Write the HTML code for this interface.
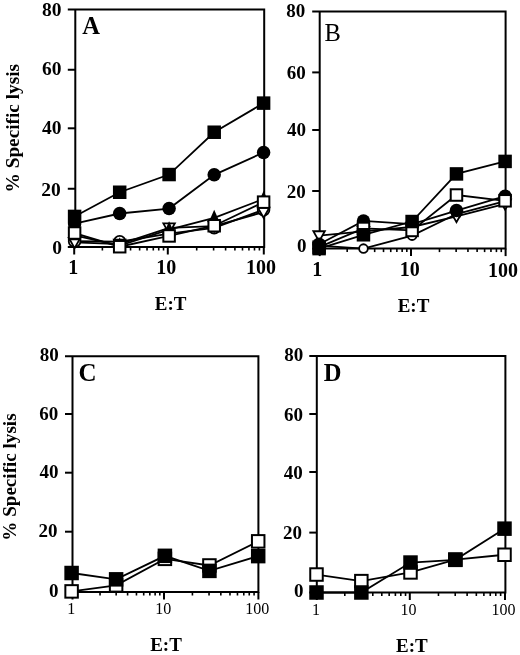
<!DOCTYPE html>
<html><head><meta charset="utf-8"><style>
html,body{margin:0;padding:0;background:#fff;}
svg{display:block;filter:grayscale(1);}
text{font-family:"Liberation Serif",serif;fill:#000;stroke:none;}
</style></head><body>
<svg width="520" height="655" viewBox="0 0 520 655" stroke="#000" stroke-linecap="butt">
<path d="M67.80 9.50 H264.20 V247.00 H75.30 V9.50" fill="none" stroke-width="2.0" stroke-linejoin="miter"/>
<line x1="67.80" y1="69.75" x2="75.30" y2="69.75" stroke-width="2.0"/>
<line x1="67.80" y1="128.30" x2="75.30" y2="128.30" stroke-width="2.0"/>
<line x1="67.80" y1="188.75" x2="75.30" y2="188.75" stroke-width="2.0"/>
<line x1="67.80" y1="247.00" x2="75.30" y2="247.00" stroke-width="2.0"/>
<line x1="74.20" y1="247.00" x2="74.20" y2="254.50" stroke-width="2.0"/>
<line x1="167.80" y1="247.00" x2="167.80" y2="254.50" stroke-width="2.0"/>
<line x1="263.80" y1="247.00" x2="263.80" y2="254.50" stroke-width="2.0"/>
<line x1="102.38" y1="247.00" x2="102.38" y2="250.50" stroke-width="1.6"/>
<line x1="118.86" y1="247.00" x2="118.86" y2="250.50" stroke-width="1.6"/>
<line x1="130.55" y1="247.00" x2="130.55" y2="250.50" stroke-width="1.6"/>
<line x1="139.62" y1="247.00" x2="139.62" y2="250.50" stroke-width="1.6"/>
<line x1="147.03" y1="247.00" x2="147.03" y2="250.50" stroke-width="1.6"/>
<line x1="153.30" y1="247.00" x2="153.30" y2="250.50" stroke-width="1.6"/>
<line x1="158.73" y1="247.00" x2="158.73" y2="250.50" stroke-width="1.6"/>
<line x1="163.52" y1="247.00" x2="163.52" y2="250.50" stroke-width="1.6"/>
<line x1="196.70" y1="247.00" x2="196.70" y2="250.50" stroke-width="1.6"/>
<line x1="213.60" y1="247.00" x2="213.60" y2="250.50" stroke-width="1.6"/>
<line x1="225.60" y1="247.00" x2="225.60" y2="250.50" stroke-width="1.6"/>
<line x1="234.90" y1="247.00" x2="234.90" y2="250.50" stroke-width="1.6"/>
<line x1="242.50" y1="247.00" x2="242.50" y2="250.50" stroke-width="1.6"/>
<line x1="248.93" y1="247.00" x2="248.93" y2="250.50" stroke-width="1.6"/>
<line x1="254.50" y1="247.00" x2="254.50" y2="250.50" stroke-width="1.6"/>
<line x1="259.41" y1="247.00" x2="259.41" y2="250.50" stroke-width="1.6"/>
<path d="M312.20 11.40 H505.60 V248.60 H319.70 V11.40" fill="none" stroke-width="2.0" stroke-linejoin="miter"/>
<line x1="312.20" y1="72.40" x2="319.70" y2="72.40" stroke-width="2.0"/>
<line x1="312.20" y1="130.00" x2="319.70" y2="130.00" stroke-width="2.0"/>
<line x1="312.20" y1="191.00" x2="319.70" y2="191.00" stroke-width="2.0"/>
<line x1="312.20" y1="248.60" x2="319.70" y2="248.60" stroke-width="2.0"/>
<line x1="319.70" y1="248.60" x2="319.70" y2="256.10" stroke-width="2.0"/>
<line x1="411.00" y1="248.60" x2="411.00" y2="256.10" stroke-width="2.0"/>
<line x1="505.60" y1="248.60" x2="505.60" y2="256.10" stroke-width="2.0"/>
<line x1="347.18" y1="248.60" x2="347.18" y2="252.10" stroke-width="1.6"/>
<line x1="363.26" y1="248.60" x2="363.26" y2="252.10" stroke-width="1.6"/>
<line x1="374.67" y1="248.60" x2="374.67" y2="252.10" stroke-width="1.6"/>
<line x1="383.52" y1="248.60" x2="383.52" y2="252.10" stroke-width="1.6"/>
<line x1="390.75" y1="248.60" x2="390.75" y2="252.10" stroke-width="1.6"/>
<line x1="396.86" y1="248.60" x2="396.86" y2="252.10" stroke-width="1.6"/>
<line x1="402.15" y1="248.60" x2="402.15" y2="252.10" stroke-width="1.6"/>
<line x1="406.82" y1="248.60" x2="406.82" y2="252.10" stroke-width="1.6"/>
<line x1="439.48" y1="248.60" x2="439.48" y2="252.10" stroke-width="1.6"/>
<line x1="456.14" y1="248.60" x2="456.14" y2="252.10" stroke-width="1.6"/>
<line x1="467.95" y1="248.60" x2="467.95" y2="252.10" stroke-width="1.6"/>
<line x1="477.12" y1="248.60" x2="477.12" y2="252.10" stroke-width="1.6"/>
<line x1="484.61" y1="248.60" x2="484.61" y2="252.10" stroke-width="1.6"/>
<line x1="490.95" y1="248.60" x2="490.95" y2="252.10" stroke-width="1.6"/>
<line x1="496.43" y1="248.60" x2="496.43" y2="252.10" stroke-width="1.6"/>
<line x1="501.27" y1="248.60" x2="501.27" y2="252.10" stroke-width="1.6"/>
<path d="M65.00 356.20 H258.40 V592.00 H72.50 V356.20" fill="none" stroke-width="2.0" stroke-linejoin="miter"/>
<line x1="65.00" y1="414.00" x2="72.50" y2="414.00" stroke-width="2.0"/>
<line x1="65.00" y1="472.70" x2="72.50" y2="472.70" stroke-width="2.0"/>
<line x1="65.00" y1="531.70" x2="72.50" y2="531.70" stroke-width="2.0"/>
<line x1="65.00" y1="592.00" x2="72.50" y2="592.00" stroke-width="2.0"/>
<line x1="72.50" y1="592.00" x2="72.50" y2="599.50" stroke-width="2.0"/>
<line x1="164.00" y1="592.00" x2="164.00" y2="599.50" stroke-width="2.0"/>
<line x1="258.40" y1="592.00" x2="258.40" y2="599.50" stroke-width="2.0"/>
<line x1="100.04" y1="592.00" x2="100.04" y2="595.50" stroke-width="1.6"/>
<line x1="116.16" y1="592.00" x2="116.16" y2="595.50" stroke-width="1.6"/>
<line x1="127.59" y1="592.00" x2="127.59" y2="595.50" stroke-width="1.6"/>
<line x1="136.46" y1="592.00" x2="136.46" y2="595.50" stroke-width="1.6"/>
<line x1="143.70" y1="592.00" x2="143.70" y2="595.50" stroke-width="1.6"/>
<line x1="149.83" y1="592.00" x2="149.83" y2="595.50" stroke-width="1.6"/>
<line x1="155.13" y1="592.00" x2="155.13" y2="595.50" stroke-width="1.6"/>
<line x1="159.81" y1="592.00" x2="159.81" y2="595.50" stroke-width="1.6"/>
<line x1="192.42" y1="592.00" x2="192.42" y2="595.50" stroke-width="1.6"/>
<line x1="209.04" y1="592.00" x2="209.04" y2="595.50" stroke-width="1.6"/>
<line x1="220.83" y1="592.00" x2="220.83" y2="595.50" stroke-width="1.6"/>
<line x1="229.98" y1="592.00" x2="229.98" y2="595.50" stroke-width="1.6"/>
<line x1="237.46" y1="592.00" x2="237.46" y2="595.50" stroke-width="1.6"/>
<line x1="243.78" y1="592.00" x2="243.78" y2="595.50" stroke-width="1.6"/>
<line x1="249.25" y1="592.00" x2="249.25" y2="595.50" stroke-width="1.6"/>
<line x1="254.08" y1="592.00" x2="254.08" y2="595.50" stroke-width="1.6"/>
<path d="M309.30 356.00 H505.40 V592.50 H316.80 V356.00" fill="none" stroke-width="2.0" stroke-linejoin="miter"/>
<line x1="309.30" y1="414.00" x2="316.80" y2="414.00" stroke-width="2.0"/>
<line x1="309.30" y1="472.00" x2="316.80" y2="472.00" stroke-width="2.0"/>
<line x1="309.30" y1="532.60" x2="316.80" y2="532.60" stroke-width="2.0"/>
<line x1="309.30" y1="592.50" x2="316.80" y2="592.50" stroke-width="2.0"/>
<line x1="316.80" y1="592.50" x2="316.80" y2="600.00" stroke-width="2.0"/>
<line x1="409.80" y1="592.50" x2="409.80" y2="600.00" stroke-width="2.0"/>
<line x1="505.00" y1="592.50" x2="505.00" y2="600.00" stroke-width="2.0"/>
<line x1="344.80" y1="592.50" x2="344.80" y2="596.00" stroke-width="1.6"/>
<line x1="361.17" y1="592.50" x2="361.17" y2="596.00" stroke-width="1.6"/>
<line x1="372.79" y1="592.50" x2="372.79" y2="596.00" stroke-width="1.6"/>
<line x1="381.80" y1="592.50" x2="381.80" y2="596.00" stroke-width="1.6"/>
<line x1="389.17" y1="592.50" x2="389.17" y2="596.00" stroke-width="1.6"/>
<line x1="395.39" y1="592.50" x2="395.39" y2="596.00" stroke-width="1.6"/>
<line x1="400.79" y1="592.50" x2="400.79" y2="596.00" stroke-width="1.6"/>
<line x1="405.54" y1="592.50" x2="405.54" y2="596.00" stroke-width="1.6"/>
<line x1="438.46" y1="592.50" x2="438.46" y2="596.00" stroke-width="1.6"/>
<line x1="455.22" y1="592.50" x2="455.22" y2="596.00" stroke-width="1.6"/>
<line x1="467.12" y1="592.50" x2="467.12" y2="596.00" stroke-width="1.6"/>
<line x1="476.34" y1="592.50" x2="476.34" y2="596.00" stroke-width="1.6"/>
<line x1="483.88" y1="592.50" x2="483.88" y2="596.00" stroke-width="1.6"/>
<line x1="490.25" y1="592.50" x2="490.25" y2="596.00" stroke-width="1.6"/>
<line x1="495.77" y1="592.50" x2="495.77" y2="596.00" stroke-width="1.6"/>
<line x1="500.64" y1="592.50" x2="500.64" y2="596.00" stroke-width="1.6"/>
<path d="M74.60 241.18 L119.69 241.76 L169.10 233.60 L214.19 227.78 L263.60 209.72" fill="none" stroke-width="1.8"/>
<path d="M74.60 242.34 L119.69 244.09 L169.10 227.78 L214.19 226.03 L263.60 212.05" fill="none" stroke-width="1.8"/>
<path d="M74.60 235.35 L119.69 245.54 L169.10 229.53 L214.19 217.88 L263.60 198.94" fill="none" stroke-width="1.8"/>
<path d="M74.60 223.70 L119.69 213.51 L169.10 208.56 L214.19 174.85 L263.60 152.48" fill="none" stroke-width="1.8"/>
<path d="M74.60 233.02 L119.69 246.71 L169.10 235.93 L214.19 225.74 L263.60 202.15" fill="none" stroke-width="1.8"/>
<path d="M74.60 216.42 L119.69 192.25 L169.10 174.54 L214.19 132.23 L263.60 103.12" fill="none" stroke-width="1.8"/>
<circle cx="74.60" cy="241.18" r="5.85" fill="#fff" stroke-width="1.8"/>
<circle cx="119.69" cy="241.76" r="5.85" fill="#fff" stroke-width="1.8"/>
<circle cx="169.10" cy="233.60" r="5.85" fill="#fff" stroke-width="1.8"/>
<circle cx="214.19" cy="227.78" r="5.85" fill="#fff" stroke-width="1.8"/>
<circle cx="263.60" cy="209.72" r="5.85" fill="#fff" stroke-width="1.8"/>
<path d="M68.85 237.94 L80.35 237.94 L74.60 248.09Z" fill="#fff" stroke-width="1.8" stroke-linejoin="miter"/>
<path d="M113.94 239.69 L125.44 239.69 L119.69 249.84Z" fill="#fff" stroke-width="1.8" stroke-linejoin="miter"/>
<path d="M163.35 223.38 L174.85 223.38 L169.10 233.53Z" fill="#fff" stroke-width="1.8" stroke-linejoin="miter"/>
<path d="M208.44 221.63 L219.94 221.63 L214.19 231.78Z" fill="#fff" stroke-width="1.8" stroke-linejoin="miter"/>
<path d="M257.85 207.65 L269.35 207.65 L263.60 217.80Z" fill="#fff" stroke-width="1.8" stroke-linejoin="miter"/>
<path d="M74.60 227.15 L80.40 240.35 L68.80 240.35Z" fill="#000" stroke="none"/>
<path d="M119.69 237.34 L125.49 250.54 L113.89 250.54Z" fill="#000" stroke="none"/>
<path d="M169.10 221.33 L174.90 234.53 L163.30 234.53Z" fill="#000" stroke="none"/>
<path d="M214.19 209.68 L219.99 222.88 L208.39 222.88Z" fill="#000" stroke="none"/>
<path d="M263.60 190.74 L269.40 203.94 L257.80 203.94Z" fill="#000" stroke="none"/>
<circle cx="74.60" cy="223.70" r="6.75" fill="#000" stroke="none"/>
<circle cx="119.69" cy="213.51" r="6.75" fill="#000" stroke="none"/>
<circle cx="169.10" cy="208.56" r="6.75" fill="#000" stroke="none"/>
<circle cx="214.19" cy="174.85" r="6.75" fill="#000" stroke="none"/>
<circle cx="263.60" cy="152.48" r="6.75" fill="#000" stroke="none"/>
<rect x="68.85" y="227.27" width="11.50" height="11.50" fill="#fff" stroke-width="2"/>
<rect x="113.94" y="240.96" width="11.50" height="11.50" fill="#fff" stroke-width="2"/>
<rect x="163.35" y="230.18" width="11.50" height="11.50" fill="#fff" stroke-width="2"/>
<rect x="208.44" y="219.99" width="11.50" height="11.50" fill="#fff" stroke-width="2"/>
<rect x="257.85" y="196.40" width="11.50" height="11.50" fill="#fff" stroke-width="2"/>
<rect x="67.85" y="209.67" width="13.50" height="13.50" fill="#000" stroke="none"/>
<rect x="112.94" y="185.50" width="13.50" height="13.50" fill="#000" stroke="none"/>
<rect x="162.35" y="167.79" width="13.50" height="13.50" fill="#000" stroke="none"/>
<rect x="207.44" y="125.48" width="13.50" height="13.50" fill="#000" stroke="none"/>
<rect x="256.85" y="96.37" width="13.50" height="13.50" fill="#000" stroke="none"/>
<path d="M319.10 245.72 L363.47 248.60 L412.10 235.64 L456.47 214.04 L505.10 201.08" fill="none" stroke-width="1.8"/>
<path d="M319.10 235.64 L363.47 231.32 L412.10 227.00 L456.47 216.34 L505.10 203.96" fill="none" stroke-width="1.8"/>
<path d="M319.10 244.28 L363.47 220.95 L412.10 224.12 L456.47 210.58 L505.10 196.18" fill="none" stroke-width="1.8"/>
<path d="M319.10 247.16 L363.47 228.44 L412.10 230.46 L456.47 195.03 L505.10 200.79" fill="none" stroke-width="1.8"/>
<path d="M319.10 248.60 L363.47 234.78 L412.10 221.53 L456.47 173.92 L505.10 161.41" fill="none" stroke-width="1.8"/>
<circle cx="319.10" cy="245.72" r="4.35" fill="#fff" stroke-width="1.8"/>
<circle cx="363.47" cy="248.60" r="4.35" fill="#fff" stroke-width="1.8"/>
<circle cx="412.10" cy="235.64" r="4.35" fill="#fff" stroke-width="1.8"/>
<circle cx="456.47" cy="214.04" r="4.35" fill="#fff" stroke-width="1.8"/>
<circle cx="505.10" cy="201.08" r="4.35" fill="#fff" stroke-width="1.8"/>
<path d="M313.35 231.24 L324.85 231.24 L319.10 241.39Z" fill="#fff" stroke-width="1.8" stroke-linejoin="miter"/>
<path d="M357.72 226.92 L369.22 226.92 L363.47 237.07Z" fill="#fff" stroke-width="1.8" stroke-linejoin="miter"/>
<path d="M406.35 222.60 L417.85 222.60 L412.10 232.75Z" fill="#fff" stroke-width="1.8" stroke-linejoin="miter"/>
<path d="M450.72 211.94 L462.22 211.94 L456.47 222.09Z" fill="#fff" stroke-width="1.8" stroke-linejoin="miter"/>
<path d="M499.35 199.56 L510.85 199.56 L505.10 209.71Z" fill="#fff" stroke-width="1.8" stroke-linejoin="miter"/>
<circle cx="319.10" cy="244.28" r="6.75" fill="#000" stroke="none"/>
<circle cx="363.47" cy="220.95" r="6.75" fill="#000" stroke="none"/>
<circle cx="412.10" cy="224.12" r="6.75" fill="#000" stroke="none"/>
<circle cx="456.47" cy="210.58" r="6.75" fill="#000" stroke="none"/>
<circle cx="505.10" cy="196.18" r="6.75" fill="#000" stroke="none"/>
<rect x="313.35" y="241.41" width="11.50" height="11.50" fill="#fff" stroke-width="2"/>
<rect x="357.72" y="222.69" width="11.50" height="11.50" fill="#fff" stroke-width="2"/>
<rect x="406.35" y="224.71" width="11.50" height="11.50" fill="#fff" stroke-width="2"/>
<rect x="450.72" y="189.28" width="11.50" height="11.50" fill="#fff" stroke-width="2"/>
<rect x="499.35" y="195.04" width="11.50" height="11.50" fill="#fff" stroke-width="2"/>
<rect x="312.35" y="241.85" width="13.50" height="13.50" fill="#000" stroke="none"/>
<rect x="356.72" y="228.03" width="13.50" height="13.50" fill="#000" stroke="none"/>
<rect x="405.35" y="214.78" width="13.50" height="13.50" fill="#000" stroke="none"/>
<rect x="449.72" y="167.17" width="13.50" height="13.50" fill="#000" stroke="none"/>
<rect x="498.35" y="154.66" width="13.50" height="13.50" fill="#000" stroke="none"/>
<path d="M71.60 591.40 L116.12 585.37 L164.90 558.84 L209.42 565.47 L258.20 541.35" fill="none" stroke-width="1.8"/>
<path d="M71.60 573.01 L116.12 579.34 L164.90 555.82 L209.42 570.89 L258.20 556.12" fill="none" stroke-width="1.8"/>
<rect x="65.35" y="585.15" width="12.50" height="12.50" fill="#fff" stroke-width="2"/>
<rect x="109.87" y="579.12" width="12.50" height="12.50" fill="#fff" stroke-width="2"/>
<rect x="158.65" y="552.59" width="12.50" height="12.50" fill="#fff" stroke-width="2"/>
<rect x="203.17" y="559.22" width="12.50" height="12.50" fill="#fff" stroke-width="2"/>
<rect x="251.95" y="535.10" width="12.50" height="12.50" fill="#fff" stroke-width="2"/>
<rect x="64.35" y="565.76" width="14.50" height="14.50" fill="#000" stroke="none"/>
<rect x="108.87" y="572.09" width="14.50" height="14.50" fill="#000" stroke="none"/>
<rect x="157.65" y="548.57" width="14.50" height="14.50" fill="#000" stroke="none"/>
<rect x="202.17" y="563.64" width="14.50" height="14.50" fill="#000" stroke="none"/>
<rect x="250.95" y="548.87" width="14.50" height="14.50" fill="#000" stroke="none"/>
<path d="M316.50 574.53 L361.35 581.12 L410.50 572.43 L455.35 559.56 L504.50 554.76" fill="none" stroke-width="1.8"/>
<path d="M316.50 592.50 L361.35 592.50 L410.50 562.55 L455.35 559.85 L504.50 528.66" fill="none" stroke-width="1.8"/>
<rect x="310.25" y="568.28" width="12.50" height="12.50" fill="#fff" stroke-width="2"/>
<rect x="355.10" y="574.87" width="12.50" height="12.50" fill="#fff" stroke-width="2"/>
<rect x="404.25" y="566.18" width="12.50" height="12.50" fill="#fff" stroke-width="2"/>
<rect x="449.10" y="553.31" width="12.50" height="12.50" fill="#fff" stroke-width="2"/>
<rect x="498.25" y="548.51" width="12.50" height="12.50" fill="#fff" stroke-width="2"/>
<rect x="309.25" y="585.25" width="14.50" height="14.50" fill="#000" stroke="none"/>
<rect x="354.10" y="585.25" width="14.50" height="14.50" fill="#000" stroke="none"/>
<rect x="403.25" y="555.30" width="14.50" height="14.50" fill="#000" stroke="none"/>
<rect x="448.10" y="552.60" width="14.50" height="14.50" fill="#000" stroke="none"/>
<rect x="497.25" y="521.41" width="14.50" height="14.50" fill="#000" stroke="none"/>
<text x="41.92" y="15.62" font-size="19.5" font-weight="bold">80</text>
<text x="41.88" y="75.42" font-size="19.5" font-weight="bold">60</text>
<text x="42.00" y="133.75" font-size="19.5" font-weight="bold">40</text>
<text x="41.20" y="195.50" font-size="19.5" font-weight="bold">20</text>
<text x="52.30" y="253.55" font-size="19.5" font-weight="bold">0</text>
<text x="68.30" y="273.80" font-size="20" font-weight="bold">1</text>
<text x="156.23" y="274.40" font-size="20" font-weight="bold">10</text>
<text x="245.98" y="274.30" font-size="20" font-weight="bold">100</text>
<text x="82.25" y="33.88" font-size="24.5" font-weight="bold">A</text>
<text x="154.77" y="309.67" font-size="19" font-weight="bold">E:T</text>
<text x="286.32" y="17.38" font-size="19" font-weight="bold">80</text>
<text x="286.80" y="79.45" font-size="19" font-weight="bold">60</text>
<text x="286.95" y="135.70" font-size="19" font-weight="bold">40</text>
<text x="286.80" y="198.05" font-size="19" font-weight="bold">20</text>
<text x="297.05" y="251.75" font-size="19" font-weight="bold">0</text>
<text x="312.25" y="275.95" font-size="20" font-weight="bold">1</text>
<text x="399.68" y="276.45" font-size="20" font-weight="bold">10</text>
<text x="488.02" y="276.55" font-size="20" font-weight="bold">100</text>
<text x="324.50" y="40.70" font-size="24.5" font-weight="normal">B</text>
<text x="397.68" y="311.77" font-size="19" font-weight="bold">E:T</text>
<text x="39.65" y="361.35" font-size="19" font-weight="bold">80</text>
<text x="39.25" y="419.75" font-size="19" font-weight="bold">60</text>
<text x="39.45" y="477.95" font-size="19" font-weight="bold">40</text>
<text x="38.55" y="537.45" font-size="19" font-weight="bold">20</text>
<text x="49.00" y="596.58" font-size="19" font-weight="bold">0</text>
<text x="67.33" y="613.62" font-size="16" font-weight="normal">1</text>
<text x="155.15" y="613.50" font-size="16" font-weight="normal">10</text>
<text x="245.15" y="614.05" font-size="16" font-weight="normal">100</text>
<text x="78.50" y="381.38" font-size="25" font-weight="bold">C</text>
<text x="150.18" y="651.08" font-size="19" font-weight="bold">E:T</text>
<text x="284.25" y="361.10" font-size="19" font-weight="bold">80</text>
<text x="284.00" y="420.65" font-size="19" font-weight="bold">60</text>
<text x="283.80" y="478.75" font-size="19" font-weight="bold">40</text>
<text x="283.05" y="538.85" font-size="19" font-weight="bold">20</text>
<text x="294.10" y="597.45" font-size="19" font-weight="bold">0</text>
<text x="311.90" y="614.85" font-size="16" font-weight="normal">1</text>
<text x="400.50" y="615.00" font-size="16" font-weight="normal">10</text>
<text x="491.50" y="615.00" font-size="16" font-weight="normal">100</text>
<text x="323.80" y="380.70" font-size="24.5" font-weight="bold">D</text>
<text x="396.12" y="652.38" font-size="19" font-weight="bold">E:T</text>
<text transform="translate(19.20,127.55) rotate(-90)" x="-64.88" y="0" font-size="19.3" font-weight="bold">% Specific lysis</text>
<text transform="translate(16.30,476.60) rotate(-90)" x="-64.12" y="0" font-size="19.1" font-weight="bold">% Specific lysis</text>
</svg>
</body></html>
